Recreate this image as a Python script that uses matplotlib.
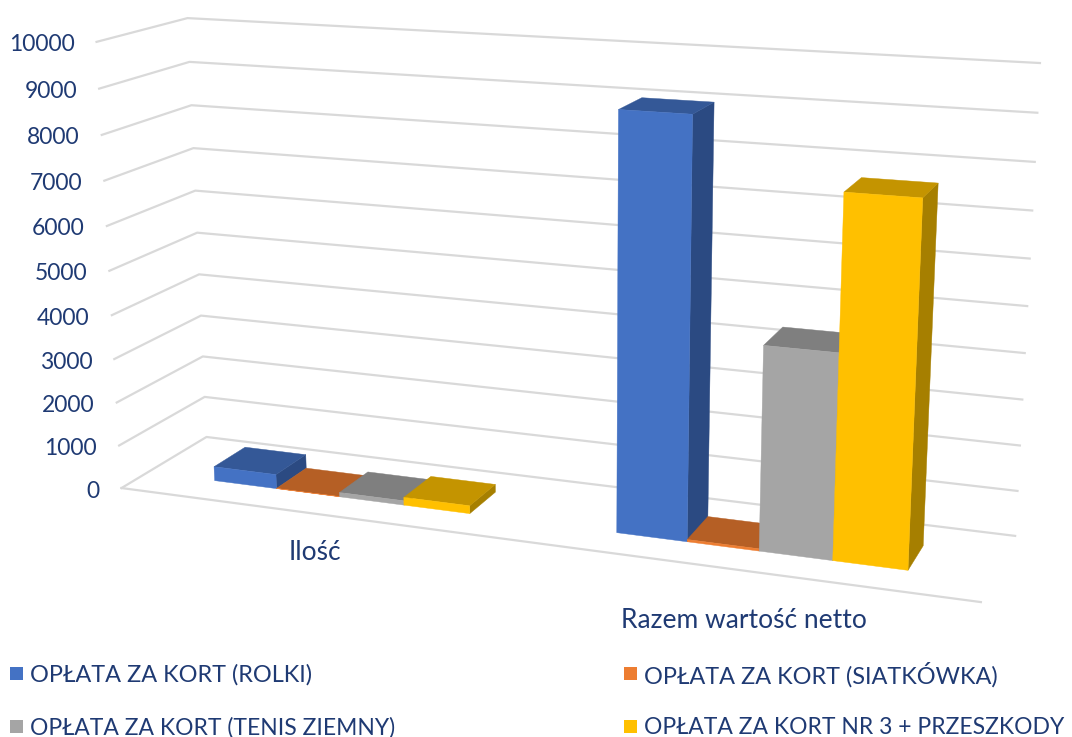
"""
Wykres 3D slupkowy: oplaty za korty, rzutowanie perspektywiczne na zwykle osie 2D
"""

import numpy as np
import matplotlib
matplotlib.use('Agg')
import matplotlib.pyplot as plt
from matplotlib.patches import Polygon, Rectangle

categories = ['Ilość', 'Razem wartość netto']
series = ['OPŁATA ZA KORT (ROLKI)', 'OPŁATA ZA KORT (SIATKÓWKA)',
          'OPŁATA ZA KORT (TENIS ZIEMNY)', 'OPŁATA ZA KORT NR 3 + PRZESZKODY']
rolki = [330, 9040]
siatkowka = [5, 50]
tenis = [100, 4420]
przeszkody = [180, 7690]
ticks = [0, 1000, 2000, 3000, 4000, 5000, 6000, 7000, 8000, 9000, 10000]

front_colors = ['#4472c4', '#ed7d31', '#a5a5a5', '#ffc000']
top_colors = ['#345897', '#b55f25', '#7f7f7f', '#c49400']
side_colors = ['#2b4a82', '#9c5120', '#6e6e6e', '#a67f00']
text_color = '#1f3a73'
grid_color = '#d9d9d9'

# x (0-1 szerokosc), d (0-1 glebokosc), v (0-1 wysokosc) -> piksele
corners3d = [(0, 0, 0), (0, 1, 0), (1, 1, 0), (1, 0, 0), (0, 0, 1), (0, 1, 1), (1, 1, 1)]
corners2d = [(121, 488), (207, 437), (1015, 536), (981, 602), (97, 42), (187, 18), (1040, 63)]

rows = []
rhs = []
for (X, D, V), (u, w) in zip(corners3d, corners2d):
    rows.append([X, D, V, 1, 0, 0, 0, 0, -u * X, -u * D, -u * V])
    rows.append([0, 0, 0, 0, X, D, V, 1, -w * X, -w * D, -w * V])
    rhs += [u, w]
m = np.linalg.lstsq(np.array(rows, float), np.array(rhs, float), rcond=None)[0]
P = np.append(m, 1).reshape(3, 4)


def proj(x, d, value):
    h = P @ np.array([x, d, value / ticks[-1], 1])
    return h[0] / h[2], h[1] / h[2]


fig = plt.figure(figsize=(10.72, 7.37), dpi=100)
ax = fig.add_axes([0, 0, 1, 1])
ax.set_xlim(0, 1072)
ax.set_ylim(737, 0)
ax.axis('off')

# siatka
for t in ticks:
    a, b, c = proj(0, 0, t), proj(0, 1, t), proj(1, 1, t)
    ax.plot([a[0], b[0], c[0]], [a[1], b[1], c[1]], color=grid_color, lw=1.6, zorder=1)
    ax.text(a[0] - 22, a[1] + 3, str(t), ha='right', va='center',
            fontsize=16.5, family='Lato', color=text_color)
a, b = proj(0, 0, 0), proj(1, 0, 0)
ax.plot([a[0], b[0]], [a[1], b[1]], color=grid_color, lw=1.6, zorder=1)

# slupki
bar_w = 0.081
d_front, d_back = 0.3, 0.68
group_start = [0.089, 0.588]
values = [rolki, siatkowka, tenis, przeszkody]
z = 2
for g in range(len(categories)):
    for s in range(len(series)):
        x0 = group_start[g] + s * bar_w
        x1 = x0 + bar_w
        v = values[s][g]
        side = [proj(x1, d_front, 0), proj(x1, d_back, 0), proj(x1, d_back, v), proj(x1, d_front, v)]
        top = [proj(x0, d_front, v), proj(x1, d_front, v), proj(x1, d_back, v), proj(x0, d_back, v)]
        front = [proj(x0, d_front, 0), proj(x1, d_front, 0), proj(x1, d_front, v), proj(x0, d_front, v)]
        ax.add_patch(Polygon(side, fc=side_colors[s], ec=side_colors[s], lw=0.3, zorder=z))
        ax.add_patch(Polygon(top, fc=top_colors[s], ec=top_colors[s], lw=0.3, zorder=z))
        ax.add_patch(Polygon(front, fc=front_colors[s], ec=front_colors[s], lw=0.3, zorder=z))
        z += 1

# podpisy kategorii
ax.text(315, 552, categories[0], ha='center', va='center', fontsize=19,
        family='Lato', color=text_color)
ax.text(744, 620, categories[1], ha='center', va='center', fontsize=19,
        family='Lato', color=text_color)

# legenda
legend_x = [10, 624]
legend_y = [673.5, 726.5]
legend_size = [16.9, 16.5]
for i, name in enumerate(series):
    lx = legend_x[i % 2]
    ly = legend_y[i // 2]
    ax.add_patch(Rectangle((lx, ly - 6.5), 13, 13, fc=front_colors[i], ec='none', zorder=5))
    ax.text(lx + 19.5, ly + 1, name, ha='left', va='center', fontsize=legend_size[i // 2],
            family='Lato', color=text_color)

fig.savefig('out.png', dpi=100)
